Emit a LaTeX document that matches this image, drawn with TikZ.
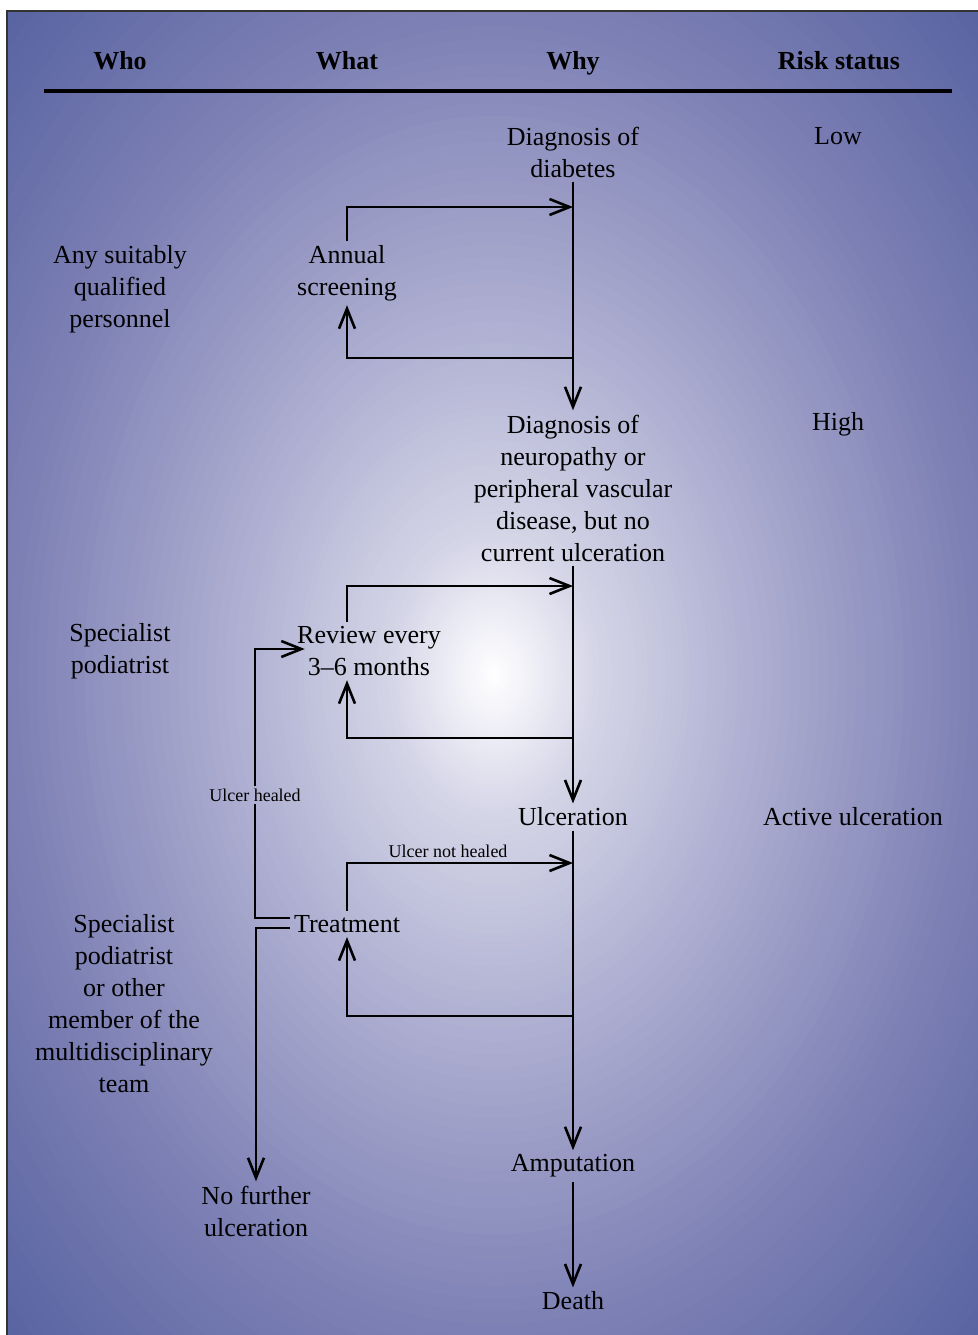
\documentclass[tikz,border=0pt]{standalone}
\usepackage{fontspec}
\setmainfont{Liberation Serif}
\usetikzlibrary{arrows.meta}

\definecolor{bgA}{RGB}{236,236,245}
\definecolor{bgB}{RGB}{214,214,232}
\definecolor{bgC}{RGB}{177,178,211}
\definecolor{bgD}{RGB}{125,128,180}
\definecolor{bgE}{RGB}{86,98,160}

\tikzset{
  txt/.style={align=center, font=\fontsize{13}{16}\selectfont, inner sep=2pt},
  head/.style={font=\bfseries\fontsize{13}{16}\selectfont},
  lbl/.style={font=\fontsize{9}{11}\selectfont, inner sep=1pt},
  line/.style={line width=1.3pt},
  flow/.style={line width=1.3pt, -{Straight Barb[length=10pt,width=8pt]}}
}

\begin{document}
\begin{tikzpicture}[x=0.5pt,y=-0.5pt]
\useasboundingbox (0,0) rectangle (978,1335);
% background panel, glow in rings
\begin{scope}
  \clip (7,11) rectangle (978,1335);
  \foreach \ra/\rb/\ca/\cb in {1.45/1.0/bgE/bgD, 1.0/0.515/bgD/bgC, 0.515/0.206/bgC/bgB, 0.206/0.1/bgB/bgA, 0.1/0/bgA/white}
  \foreach \k in {0,...,24} {
    \pgfmathsetmacro{\r}{\ra+(\rb-\ra)*\k/25}
    \pgfmathsetmacro{\p}{4*\k}
    \fill[\cb!\p!\ca] (494,675) ellipse [x radius=485*\r, y radius=662*\r];
  }
\end{scope}
\draw[gray!40!black, line width=0.6pt] (7,1335) -- (7,11) -- (978,11);

% column heads
\node[head] (who) at (120,61) {Who};
\node[head] (what) at (347,61) {What};
\node[head] (why) at (573,63) {Why};
\node[head] (risk) at (839,61) {Risk status};
\draw[line width=2pt] (44,91) -- (952,91);

% why column
\node[txt] (diab) at (573,152) {Diagnosis of\\diabetes};
\node[txt] (neuro) at (573,488) {Diagnosis of\\neuropathy or\\peripheral vascular\\disease, but no\\current ulceration};
\node[txt] (ulc) at (573,817) {Ulceration};
\node[txt] (amp) at (573,1166) {Amputation};
\node[txt] (death) at (573,1301) {Death};

% risk column
\node[txt] (low) at (838,136) {Low};
\node[txt] (high) at (838,424) {High};
\node[txt] (active) at (853,817) {Active ulceration};

% who column
\node[txt] (anyq) at (120,289) {Any suitably\\qualified\\personnel};
\node[txt] (spec1) at (120,651) {Specialist\\podiatrist};
\node[txt] (spec2) at (124,1004) {Specialist\\podiatrist\\or other\\member of the\\multidisciplinary\\team};

% what column
\node[txt] (annual) at (347,273) {Annual\\screening};
\node[txt] (review) at (369,651) {Review every\\3--6 months};
\node[txt] (treat) at (347,924) {Treatment};
\node[txt] (nofurther) at (256,1211) {No further\\ulceration};
\node[lbl] (healed) at (255,795) {Ulcer healed};
\node[lbl] (nothealed) at (448,851) {Ulcer not healed};

% points on the main line
\coordinate (in1) at (573,207);
\coordinate (out1) at (573,358);
\coordinate (in2) at (573,586);
\coordinate (out2) at (573,738);
\coordinate (in3) at (573,863);
\coordinate (out3) at (573,1016);

% main line
\draw[flow] (diab) -- (neuro);
\draw[flow] (neuro) -- (ulc);
\draw[flow] (ulc) -- (amp);
\draw[flow] (amp) -- (death);

% loops
\foreach \n/\i in {annual/1,review/2,treat/3} {
  \draw[flow] (\n.north -| annual) |- (in\i);
  \draw[flow] (out\i) -| (\n.south -| annual);
}

% healed / not healed
\draw[line] ([yshift=3pt]treat.west) -| (healed.south);
\draw[flow] (healed.north) |- ([xshift=6pt,yshift=1pt]review.west);
\draw[flow] ([yshift=-2pt]treat.west) -| (nofurther.north);
\end{tikzpicture}
\end{document}
